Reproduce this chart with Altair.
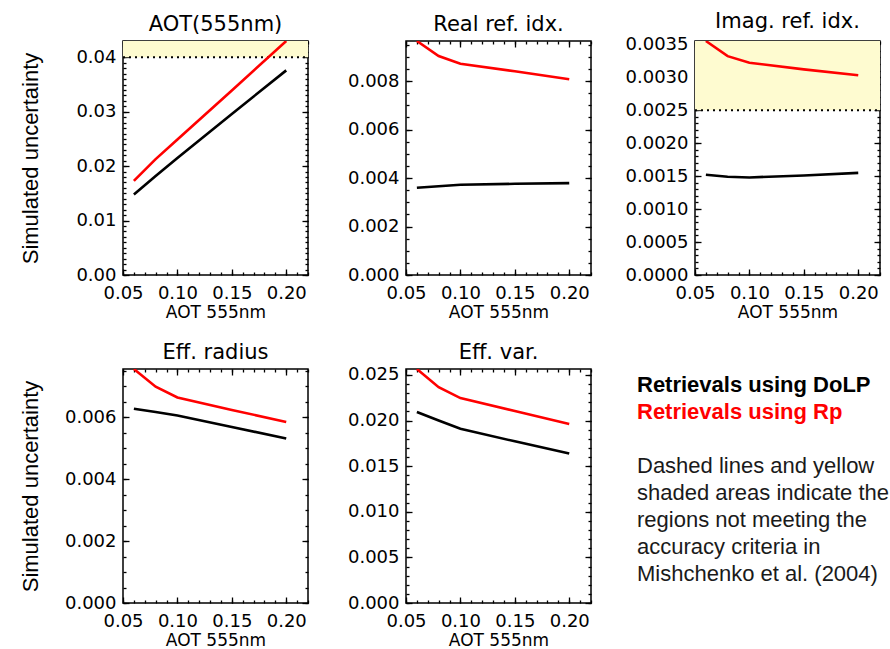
import altair as alt
import pandas as pd

# ---------------- data ----------------
aot = [0.06, 0.08, 0.10, 0.15, 0.20]
series_names = ["DoLP", "Rp"]

aot_dolp = [0.0148, 0.0182, 0.0215, 0.0296, 0.0376]
aot_rp = [0.0173, 0.0213, 0.0249, 0.0339, 0.0430]
real_dolp = [0.00360, 0.00366, 0.00372, 0.00376, 0.00379]
real_rp = [0.00965, 0.00903, 0.00871, 0.00840, 0.00807]
imag_dolp = [0.00152, 0.00149, 0.00148, 0.00151, 0.00155]
imag_rp = [0.00355, 0.00332, 0.00322, 0.00312, 0.00303]
reff_dolp = [0.00627, 0.00616, 0.00605, 0.00568, 0.00531]
reff_rp = [0.00755, 0.00698, 0.00663, 0.00623, 0.00584]
veff_dolp = [0.02093, 0.02000, 0.01910, 0.01772, 0.01638]
veff_rp = [0.02565, 0.02366, 0.02246, 0.02105, 0.01962]

x_domain = [0.05, 0.22]
x_ticks = [0.05, 0.10, 0.15, 0.20]

panel_titles = ["AOT(555nm)", "Real ref. idx.", "Imag. ref. idx.", "Eff. radius", "Eff. var."]
y_max = [0.043, 0.00965, 0.00355, 0.00755, 0.02565]
y_ticks = [
    [0.00, 0.01, 0.02, 0.03, 0.04],
    [0.000, 0.002, 0.004, 0.006, 0.008],
    [0.0000, 0.0005, 0.0010, 0.0015, 0.0020, 0.0025, 0.0030, 0.0035],
    [0.000, 0.002, 0.004, 0.006],
    [0.000, 0.005, 0.010, 0.015, 0.020, 0.025],
]
y_formats = [".2f", ".3f", ".4f", ".3f", ".3f"]
y_minor_step = [0.001, 0.0005, 0.0001, 0.0005, 0.001]
thresholds = [0.04, None, 0.0025, None, None]

x_title = "AOT 555nm"
y_title = "Simulated uncertainty"
legend_lines = ["Retrievals using DoLP", "Retrievals using Rp"]
note_lines = [
    "Dashed lines and yellow",
    "shaded areas indicate the",
    "regions not meeting the",
    "accuracy criteria in",
    "Mishchenko et al. (2004)",
]

# ---------------- styles ----------------
PW, PH = 185, 234
YELLOW = "#fefbd0"
TICK_FONT = "DejaVu Sans"
LINE_COLORS = ["#000000", "#ff0000"]
TICK_COLOR = "black"


def steps(lo, hi, step):
    n = int(round((hi - lo) / step))
    return [round(lo + i * step, 7) for i in range(n + 1) if lo + i * step <= hi + 1e-12]


x_minor = steps(x_domain[0], x_domain[1], 0.01)


def tick_axis(orient, size, vals):
    return alt.Axis(
        orient=orient, offset=-size, tickSize=size, values=vals, labels=False,
        domain=False, grid=False, title="", tickColor=TICK_COLOR, tickWidth=1.3,
        minExtent=0, maxExtent=0,
    )


def panel(i, dolp, rp, left):
    ymax = y_max[i]
    df = pd.DataFrame({
        "aot": aot + aot,
        "unc": dolp + rp,
        "ret": [series_names[0]] * len(aot) + [series_names[1]] * len(aot),
    })
    xs = alt.Scale(domain=x_domain, nice=False, zero=False)
    ys = alt.Scale(domain=[0, ymax], nice=False, zero=False)
    main_x = alt.Axis(
        orient="bottom", offset=-6, tickSize=6, values=x_ticks, format=".2f",
        domain=False, grid=False, labelFlush=False, labelOverlap=False,
        labelFont=TICK_FONT, labelFontSize=18, labelColor="black", labelPadding=9,
        tickColor=TICK_COLOR, tickWidth=1.3,
        title=x_title, titleFont=TICK_FONT, titleFontSize=17, titleFontWeight="normal",
        titleColor="black", titlePadding=2,
    )
    main_y = alt.Axis(
        orient="left", offset=-6, tickSize=6, values=y_ticks[i], format=y_formats[i],
        domain=False, grid=False, labelFlush=False, labelOverlap=False,
        labelFont=TICK_FONT, labelFontSize=18, labelColor="black", labelPadding=7,
        tickColor=TICK_COLOR, tickWidth=1.3, minExtent=70, maxExtent=70,
        title=y_title if left else "", titleFont="Liberation Sans", titleFontSize=22,
        titleFontWeight="normal", titleColor="black", titlePadding=17,
    )
    base = alt.Chart(df)
    layers = []
    thr = thresholds[i]
    if thr is not None:
        band = pd.DataFrame({"x0": [x_domain[0]], "x1": [x_domain[1]], "y0": [thr], "y1": [ymax]})
        layers.append(alt.Chart(band).mark_rect(color=YELLOW).encode(
            x=alt.X("x0:Q", scale=xs, axis=None), x2="x1:Q",
            y=alt.Y("y0:Q", scale=ys, axis=None), y2="y1:Q"))
        layers.append(alt.Chart(band).mark_rule(color="black", strokeWidth=2, strokeDash=[2, 4]).encode(
            x=alt.X("x0:Q", scale=xs, axis=None), x2="x1:Q",
            y=alt.Y("y0:Q", scale=ys, axis=None)))
    layers.append(base.mark_line(strokeWidth=2.6, clip=True).encode(
        x=alt.X("aot:Q", scale=xs, axis=main_x),
        y=alt.Y("unc:Q", scale=ys, axis=main_y),
        color=alt.Color("ret:N", scale=alt.Scale(domain=series_names, range=LINE_COLORS), legend=None),
    ))
    y_minor = steps(0, ymax, y_minor_step[i])
    for xo, yo, size, xv, yv in [
        ("top", "right", 6, x_ticks, y_ticks[i]),
        ("bottom", "left", 3, x_minor, y_minor),
        ("top", "right", 3, x_minor, y_minor),
    ]:
        layers.append(base.mark_point(opacity=0).encode(
            x=alt.X("aot:Q", scale=xs, axis=tick_axis(xo, size, xv)),
            y=alt.Y("unc:Q", scale=ys, axis=tick_axis(yo, size, yv)),
        ))
    return alt.layer(*layers).resolve_axis(x="independent", y="independent").properties(
        width=PW, height=PH,
        title=alt.TitleParams(text=panel_titles[i], font=TICK_FONT, fontSize=21, fontWeight="normal",
                              color="black", offset=3, anchor="middle", frame="group"),
    )


p1 = panel(0, aot_dolp, aot_rp, True)
p2 = panel(1, real_dolp, real_rp, False)
p3 = panel(2, imag_dolp, imag_rp, False)
p4 = panel(3, reff_dolp, reff_rp, True)
p5 = panel(4, veff_dolp, veff_rp, False)

# text panel
leg_df = pd.DataFrame({"line": legend_lines, "row": [0, 1], "ret": series_names})
note_df = pd.DataFrame({"line": note_lines, "row": [3, 4, 5, 6, 7]})
row_scale = alt.Scale(domain=[-16 / 27, (PH - 16) / 27], reverse=True, nice=False, zero=False)
leg = alt.Chart(leg_df).mark_text(align="left", baseline="middle", font="Liberation Sans",
                                  fontSize=22, fontWeight="bold").encode(
    x=alt.value(13),
    y=alt.Y("row:Q", scale=row_scale, axis=None),
    text="line:N",
    color=alt.Color("ret:N", scale=alt.Scale(domain=series_names, range=LINE_COLORS), legend=None),
)
note = alt.Chart(note_df).mark_text(align="left", baseline="middle", font="Liberation Sans",
                                    fontSize=22, color="#1a1a1a").encode(
    x=alt.value(13),
    y=alt.Y("row:Q", scale=row_scale, axis=None),
    text="line:N",
)
txt = alt.layer(leg, note).properties(width=240, height=PH, view=alt.ViewBackground(strokeOpacity=0))

row1 = alt.hconcat(p1, p2, p3, spacing=31)
row2 = alt.hconcat(p4, p5, txt, spacing=31)
chart = alt.vconcat(row1, row2, spacing=20).properties(
    padding={"left": 18, "top": 10, "right": 0, "bottom": 0},
    background="white",
).configure_view(stroke="black", strokeWidth=1.5)

chart.save("out.html", embed_options={"renderer": "svg", "actions": False})
